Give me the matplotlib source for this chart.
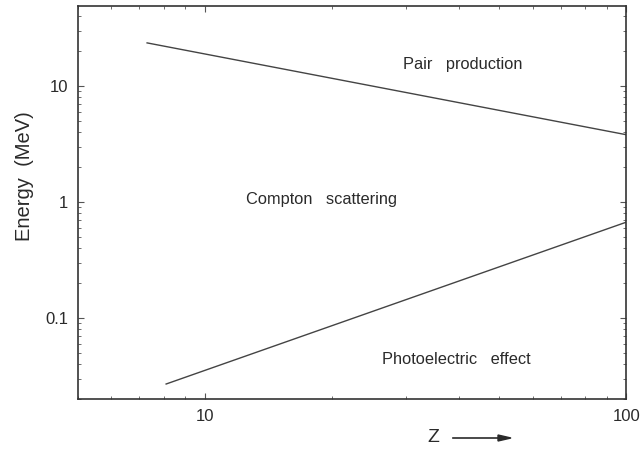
import numpy as np
import matplotlib.pyplot as plt
from matplotlib.ticker import LogLocator, NullFormatter, FixedLocator, FixedFormatter

plt.rcParams['font.family'] = ['Liberation Sans', 'DejaVu Sans']

# boundary lines (Z, energy in MeV)
pair_z = [7.3, 100]
pair_e = [23.5, 3.8]

photo_z = [8.1, 100]
photo_e = [0.027, 0.67]

x_ticks = [10, 100]
x_labels = ['10', '100']
y_ticks = [0.1, 1, 10]
y_labels = ['0.1', '1', '10']

# region labels: (text, Z, E)
regions = [
    ('Pair   production', 41, 15.2),
    ('Compton   scattering', 18.9, 1.06),
    ('Photoelectric   effect', 39.5, 0.044),
]

ink = '#2a2a2a'

fig = plt.figure(figsize=(6.43, 4.51), dpi=100)
ax = fig.add_axes([0.121, 0.115, 0.853, 0.872])

ax.plot(pair_z, pair_e, color='#444444', lw=1.0)
ax.plot(photo_z, photo_e, color='#444444', lw=1.0)

for txt, z, e in regions:
    ax.text(z, e, txt, ha='center', va='center', fontsize=11.8, color=ink)

ax.set_xscale('log')
ax.set_yscale('log')
ax.set_xlim(5, 100)
ax.set_ylim(0.02, 49)

ax.xaxis.set_major_locator(FixedLocator(x_ticks))
ax.xaxis.set_major_formatter(FixedFormatter(x_labels))
ax.yaxis.set_major_locator(FixedLocator(y_ticks))
ax.yaxis.set_major_formatter(FixedFormatter(y_labels))
ax.xaxis.set_minor_locator(LogLocator(base=10, subs=np.arange(2, 10)))
ax.yaxis.set_minor_locator(LogLocator(base=10, subs=np.arange(2, 10)))
ax.xaxis.set_minor_formatter(NullFormatter())
ax.yaxis.set_minor_formatter(NullFormatter())

ax.tick_params(which='both', direction='in', top=True, right=True,
               color='#555555', labelcolor=ink, labelsize=12)
ax.tick_params(which='major', length=4, width=0.8, pad=7)
ax.tick_params(which='minor', length=2.5, width=0.6)

for s in ax.spines.values():
    s.set_color('#333333')
    s.set_linewidth(1.2)

ax.set_ylabel('Energy  (MeV)', fontsize=14.5, color=ink)
ax.yaxis.set_label_coords(-0.08, 0.567)

# "Z ->" axis label
fig.text(433 / 643, 1 - 438 / 451, 'Z', fontsize=14, color=ink,
         ha='center', va='center')
fig.add_artist(plt.Line2D([453 / 643, 498 / 643], [1 - 438 / 451] * 2,
                          color=ink, lw=1.2))
fig.add_artist(plt.Polygon([[498 / 643, 1 - 435 / 451], [511 / 643, 1 - 438 / 451],
                            [498 / 643, 1 - 441 / 451]], closed=True, color=ink))

fig.savefig('out.png', dpi=100)
